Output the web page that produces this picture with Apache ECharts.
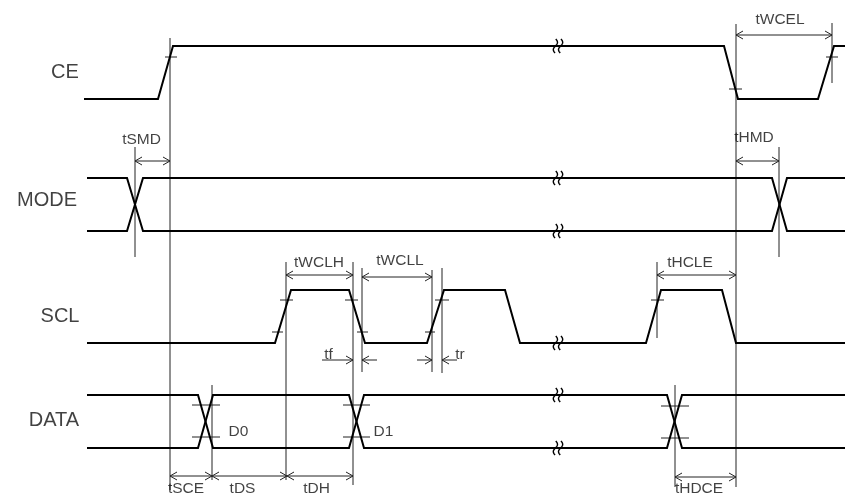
<!DOCTYPE html>
<html><head><meta charset="utf-8">
<script src="https://cdn.jsdelivr.net/npm/echarts@6/dist/echarts.min.js"></script>
<style>html,body{margin:0;padding:0;background:#fff}#c{width:845px;height:496px}</style>
</head><body><div id="c"></div>
<script>
// ---- waveform data: [time, level] in diagram units ----
const ceWave   = [[84,99],[158,99],[173,46],[724,46],[738,99],[818,99],[834,46],[845,46]];
const modeA    = [[87,178],[127,178],[143,231],[772,231],[787,178],[845,178]];
const modeB    = [[87,231],[127,231],[143,178],[772,178],[787,231],[845,231]];
const sclWave  = [[87,343],[275,343],[291,290],[349,290],[365,343],[427,343],[444,290],[505,290],[520,343],[646,343],[661,290],[722,290],[736,343],[845,343]];
const dataA    = [[87,395],[198,395],[213,448],[349,448],[364,395],[667,395],[682,448],[845,448]];
const dataB    = [[87,448],[198,448],[213,395],[349,395],[364,448],[667,448],[682,395],[845,395]];
// time-axis break marks
const breakTime = 558;
const breakLevels = [46,178,231,343,395,448];
// reference (timing) lines: [time, fromLevel, toLevel]
const refLines = [[170,38,490],[135,147,257],[779,147,257],[736,24,487],[832,23,83],[286,262,480],[353,262,485],[362,268,372],[432,270,372],[442,268,373],[657,262,338],[212,385,480],[675,385,487]];
// threshold ticks: [from, to, level]
const ticks = [[165,177,57],[729,742,89],[826,838,57],[280,293,300],[272,283,332],[345,358,300],[357,368,332],[425,435,332],[435,449,300],[651,664,300],[192,220,405],[192,220,437],[343,370,405],[343,370,437],[661,689,406],[661,689,438]];
// dimension spans (double arrows): [from, to, level]
const spans = [[135,170,161],[736,779,161],[736,832,35],[286,353,275],[362,432,277],[657,736,275],[170,212,476],[212,287,476],[287,353,476],[675,736,477]];
// single arrows: [from, to(head), level]
const arrows = [[322,353,360],[377,362,360],[417,432,360],[457,442,360]];
// parameter labels
const paramNames = ['tSMD','tHMD','tWCEL','tWCLH','tWCLL','tf','tr','tHCLE','D0','D1','tSCE','tDS','tDH','tHDCE'];
const paramPos = [[141.5,140],[754,138],[780,19.5],[319,262.5],[400,260.5],[328.5,354.5],[460,354.5],[690,262.5],[238.5,431.5],[383.5,431.5],[186,489],[242.5,489],[316.5,489],[699,489]];
// signal names
const signalNames = ['CE','MODE','SCL','DATA'];
const signalPos = [[65,72],[47,200],[60,316],[54,420]];

const chart = echarts.init(document.getElementById('c'), null, {renderer:'canvas'});
const FONT = "'Liberation Sans', Arial, sans-serif";

function waveSeries(d){
  return {type:'line', data:d, symbol:'none', silent:true, animation:false,
    lineStyle:{color:'#000', width:2, join:'miter'}};
}
const thin = [];
refLines.forEach(r => thin.push({coords:[[r[0],r[1]],[r[0],r[2]]]}));
ticks.forEach(t => thin.push({coords:[[t[0],t[2]],[t[1],t[2]]]}));
function head(x, y, dir){ // dir: +1 pointing right, -1 pointing left
  return {coords:[[x - dir*7, y-4],[x,y],[x - dir*7, y+4]]};
}
spans.forEach(s => {
  thin.push({coords:[[s[0],s[2]],[s[1],s[2]]]});
  thin.push(head(s[0], s[2], -1));
  thin.push(head(s[1], s[2], 1));
});
arrows.forEach(a => {
  thin.push({coords:[[a[0],a[2]],[a[1],a[2]]]});
  thin.push(head(a[1], a[2], a[1] > a[0] ? 1 : -1));
});
const breaks = [];
breakLevels.forEach(lv => {
  [-2.6, 2.6].forEach(off => {
    const pts = [];
    for (let i = 0; i <= 20; i++) {
      const t = i/20;
      pts.push([breakTime + off + 1.9*Math.sin(t*2*Math.PI) + 0.8*(0.5-t), lv - 7 + 14*t]);
    }
    breaks.push({coords:pts});
  });
});

const option = {
  animation:false,
  grid:{left:0,right:0,top:0,bottom:0},
  xAxis:{type:'value', min:0, max:845, show:false},
  yAxis:{type:'value', min:0, max:496, inverse:true, show:false},
  series:[
    waveSeries(ceWave), waveSeries(modeA), waveSeries(modeB), waveSeries(sclWave), waveSeries(dataA), waveSeries(dataB),
    {type:'lines', coordinateSystem:'cartesian2d', polyline:true, silent:true, animation:false,
      data:thin, lineStyle:{color:'#222', width:1, opacity:1}},
    {type:'lines', coordinateSystem:'cartesian2d', polyline:true, silent:true, animation:false,
      data:breaks, lineStyle:{color:'#000', width:1.4, opacity:1}},
    {type:'scatter', symbolSize:0, silent:true, animation:false,
      data:paramNames.map((n,i)=>({name:n, value:paramPos[i]})),
      label:{show:true, position:'inside', formatter:'{b}', color:'#111', fontSize:15.5, fontFamily:FONT}},
    {type:'scatter', symbolSize:0, silent:true, animation:false,
      data:signalNames.map((n,i)=>({name:n, value:signalPos[i]})),
      label:{show:true, position:'inside', formatter:'{b}', color:'#111', fontSize:20, fontFamily:FONT}}
  ]
};
chart.setOption(option);
</script>
</body></html>
